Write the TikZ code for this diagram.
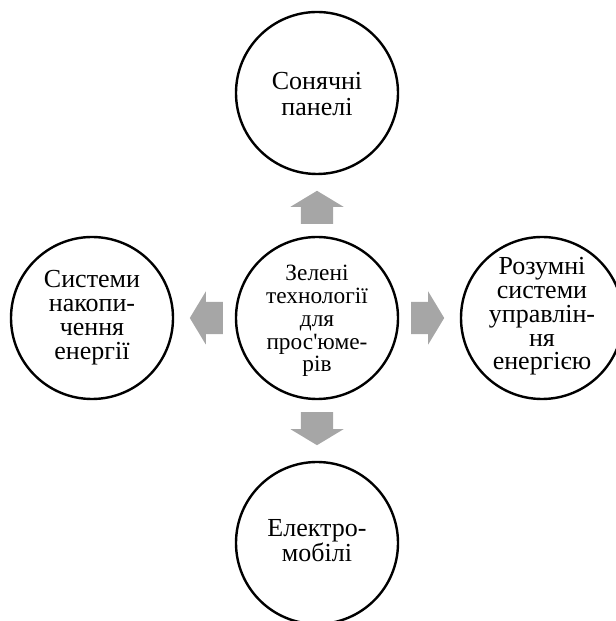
\documentclass[tikz,border=0pt]{standalone}
\usepackage{fontspec}
\setmainfont{Liberation Serif}[Ligatures=TeXOff]
\usetikzlibrary{calc}
\definecolor{arrowgray}{RGB}{166,166,166}
\tikzset{
  bubble/.style={circle, draw=black, line width=1.8pt, minimum size=121.5pt,
    inner sep=0pt},
  lbl/.style 2 args={align=center, inner sep=0pt, font=\fontsize{#1}{#2}\selectfont},
  barrow/.pic={\fill[arrowgray] (0,-16.2) -- (17,-16.2) -- (17,-26.5) -- (33,0)
    -- (17,26.5) -- (17,16.2) -- (0,16.2) -- cycle;}
}
\begin{document}
\begin{tikzpicture}[x=0.75pt,y=0.75pt]
\useasboundingbox (0,0) rectangle (616,621);
\clip (0,0) rectangle (616,621);
% circles
\node[bubble] (c) at (317,303) {};
\node[bubble] (t) at (317,528) {};
\node[bubble] (b) at (317,78) {};
\node[bubble] (l) at (92,303) {};
\node[bubble] (r) at (542,303) {};
% texts
\node[lbl={17.5}{17.1}] (ct) at ($(c)+(0,-3)$) {Зелені\\технології\\для\\прос'юме-\\рів};
\node[lbl={19.5}{19.7}] (tt) at ($(t)+(0,-1)$) {Сонячні\\панелі};
\node[lbl={19.5}{18.75}] (bt) at ($(b)+(0,2)$) {Електро-\\мобілі};
\node[lbl={19.5}{18}] (lt) at (l) {Системи\\накопи-\\чення\\енергії};
\node[lbl={19.5}{17.8}] (rt) at ($(r)+(0,1.5)$) {Розумні\\системи\\управлін-\\ня\\енергією};
% block arrows
\pic[rotate=90] at ($(c.north)+(0,12)$) {barrow};
\pic[rotate=-90] at ($(c.south)+(0,-12)$) {barrow};
\pic[rotate=180] at ($(c.west)+(-12,0)$) {barrow};
\pic at ($(c.east)+(12,0)$) {barrow};
\end{tikzpicture}
\end{document}
